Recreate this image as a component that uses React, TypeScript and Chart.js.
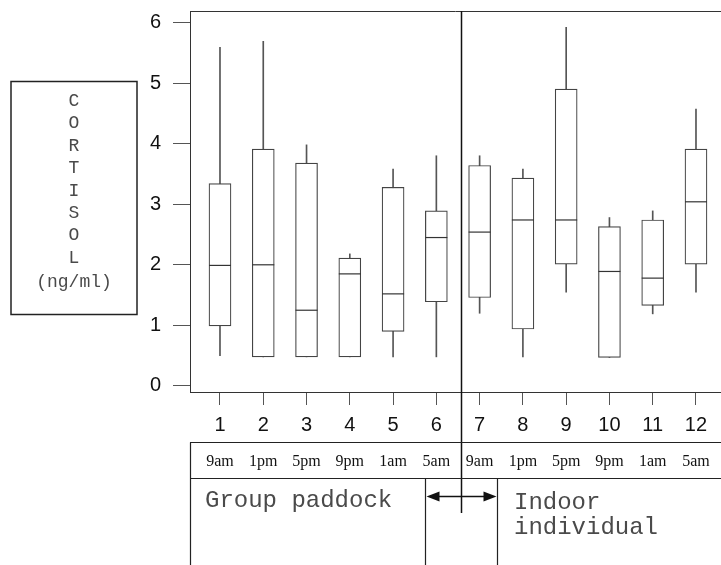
import React, { useEffect, useRef } from "react";
import { Chart, registerables } from "chart.js";

Chart.register(...registerables);

// ---- data ----
const SAMPLES = [1, 2, 3, 4, 5, 6, 7, 8, 9, 10, 11, 12];
const TIMES = ["9am", "1pm", "5pm", "9pm", "1am", "5am", "9am", "1pm", "5pm", "9pm", "1am", "5am"];
const WHISKER_LOW = [0.5, 0.48, 0.48, 0.48, 0.48, 0.48, 1.2, 0.48, 1.55, 0.47, 1.19, 1.55];
const Q1 = [0.99, 0.48, 0.48, 0.48, 0.9, 1.39, 1.46, 0.94, 2.01, 0.47, 1.33, 2.01];
const MEDIAN = [1.99, 2.0, 1.25, 1.85, 1.52, 2.45, 2.54, 2.74, 2.74, 1.89, 1.78, 3.04];
const Q3 = [3.34, 3.91, 3.68, 2.11, 3.28, 2.89, 3.64, 3.43, 4.9, 2.63, 2.74, 3.91];
const WHISKER_HIGH = [5.59, 5.69, 3.98, 2.18, 3.58, 3.8, 3.8, 3.58, 5.92, 2.78, 2.89, 4.57];
const Y_TICKS = [0, 1, 2, 3, 4, 5, 6];
const AXIS_LETTERS = ["C", "O", "R", "T", "I", "S", "O", "L"];
const AXIS_UNIT = "(ng/ml)";
const GROUP_1 = ["Group paddock"];
const GROUP_2 = ["Indoor", "individual"];

// axis ranges / divider location (in x-axis units)
const X_MIN = 0.307;
const X_MAX = 12.578;
const Y_MIN = -0.1;
const Y_MAX = 6.19;
const DIVIDER_X = 6.57;
const ARROW_FROM_X = 5.74;
const ARROW_TO_X = 7.4;

const W = 721;
const H = 565;

const annotations = {
  id: "annotations",
  afterDraw(chart: any) {
    const ctx = chart.ctx as CanvasRenderingContext2D;
    const { left, top } = chart.chartArea;
    const xs = chart.scales.x;
    ctx.save();
    ctx.strokeStyle = "#333";
    ctx.lineWidth = 1;

    // top frame line
    ctx.beginPath();
    ctx.moveTo(left, top + 0.5);
    ctx.lineTo(W, top + 0.5);
    ctx.stroke();

    // divider
    const dx = Math.round(xs.getPixelForValue(DIVIDER_X)) + 0.5;
    ctx.strokeStyle = "#111";
    ctx.lineWidth = 1.5;
    ctx.beginPath();
    ctx.moveTo(dx, top);
    ctx.lineTo(dx, 513);
    ctx.stroke();

    // table
    ctx.strokeStyle = "#222";
    ctx.lineWidth = 1.2;
    const row1 = 442.5;
    const row2 = 478.5;
    ctx.beginPath();
    ctx.moveTo(left, row1);
    ctx.lineTo(W, row1);
    ctx.moveTo(left, row2);
    ctx.lineTo(W, row2);
    ctx.moveTo(left + 0.5, row1);
    ctx.lineTo(left + 0.5, H);
    const ax1 = Math.round(xs.getPixelForValue(ARROW_FROM_X)) + 0.5;
    const ax2 = Math.round(xs.getPixelForValue(ARROW_TO_X)) + 0.5;
    ctx.moveTo(ax1, row2);
    ctx.lineTo(ax1, H);
    ctx.moveTo(ax2, row2);
    ctx.lineTo(ax2, H);
    ctx.stroke();

    // double arrow
    const ay = 496.5;
    ctx.lineWidth = 1.5;
    ctx.strokeStyle = "#111";
    ctx.beginPath();
    ctx.moveTo(ax1 + 10, ay);
    ctx.lineTo(ax2 - 10, ay);
    ctx.stroke();
    ctx.fillStyle = "#111";
    ctx.beginPath();
    ctx.moveTo(ax1 + 1, ay);
    ctx.lineTo(ax1 + 14, ay - 5);
    ctx.lineTo(ax1 + 14, ay + 5);
    ctx.closePath();
    ctx.fill();
    ctx.beginPath();
    ctx.moveTo(ax2 - 1, ay);
    ctx.lineTo(ax2 - 14, ay - 5);
    ctx.lineTo(ax2 - 14, ay + 5);
    ctx.closePath();
    ctx.fill();

    // time labels
    ctx.fillStyle = "#111";
    ctx.font = "16px 'Liberation Serif', 'DejaVu Serif', serif";
    ctx.textAlign = "center";
    ctx.textBaseline = "alphabetic";
    TIMES.forEach((t, i) => {
      ctx.fillText(t, xs.getPixelForValue(SAMPLES[i]), 466);
    });

    // group labels
    ctx.fillStyle = "#4a4a4a";
    ctx.font = "24px 'Liberation Mono', 'DejaVu Sans Mono', monospace";
    ctx.textAlign = "left";
    GROUP_1.forEach((t, i) => ctx.fillText(t, 205, 507 + i * 25));
    GROUP_2.forEach((t, i) => ctx.fillText(t, 514, 509 + i * 25));

    // y-axis title box
    ctx.strokeStyle = "#222";
    ctx.lineWidth = 1.5;
    ctx.strokeRect(11, 81.5, 126, 233);
    ctx.fillStyle = "#4a4a4a";
    ctx.font = "18px 'Liberation Mono', 'DejaVu Sans Mono', monospace";
    ctx.textAlign = "center";
    AXIS_LETTERS.forEach((c, i) => ctx.fillText(c, 74, 106 + i * 22.4));
    ctx.fillText(AXIS_UNIT, 74, 287);

    ctx.restore();
  },
};

export default function App() {
  const ref = useRef<HTMLCanvasElement | null>(null);

  useEffect(() => {
    if (!ref.current) return;
    const chart = new Chart(ref.current, {
      type: "bar",
      data: {
        datasets: [
          {
            type: "line",
            label: "median",
            data: SAMPLES.map((s, i) => ({ x: s, y: MEDIAN[i] })),
            showLine: false,
            pointStyle: "line",
            pointRadius: 11,
            pointHoverRadius: 11,
            pointBorderWidth: 1.2,
            borderColor: "#333",
            backgroundColor: "#333",
            order: 1,
          } as any,
          {
            type: "bar",
            label: "box",
            data: SAMPLES.map((s, i) => ({ x: s, y: [Q1[i], Q3[i]] })),
            backgroundColor: "#ffffff",
            borderColor: "#444",
            borderWidth: 1.2,
            borderSkipped: false,
            barThickness: 22,
            grouped: false,
            order: 2,
          } as any,
          {
            type: "bar",
            label: "whisker",
            data: SAMPLES.map((s, i) => ({ x: s, y: [WHISKER_LOW[i], WHISKER_HIGH[i]] })),
            backgroundColor: "#555",
            borderWidth: 0,
            barThickness: 1,
            grouped: false,
            order: 3,
          } as any,
        ],
      },
      options: {
        responsive: false,
        animation: false,
        layout: { autoPadding: false, padding: { top: 11, left: 0, right: 0, bottom: 0 } },
        plugins: {
          legend: { display: false },
          tooltip: { enabled: false },
        },
        scales: {
          x: {
            type: "linear",
            min: X_MIN,
            max: X_MAX,
            offset: false,
            afterBuildTicks: (s: any) => {
              s.ticks = SAMPLES.map((v) => ({ value: v }));
            },
            afterFit: (s: any) => {
              s.height = 173;
              s.paddingLeft = 0;
              s.paddingRight = 0;
              s.paddingTop = 0;
              s.paddingBottom = 0;
            },
            ticks: {
              color: "#111",
              font: { family: "'Liberation Sans', Arial, sans-serif", size: 20 },
              padding: 8,
              maxRotation: 0,
              autoSkip: false,
              callback: (v: any) => String(v),
            },
            grid: {
              offset: false,
              drawOnChartArea: false,
              drawTicks: true,
              tickLength: 13,
              color: "#555",
            },
            border: { display: true, color: "#333", width: 1 },
          },
          y: {
            type: "linear",
            min: Y_MIN,
            max: Y_MAX,
            afterBuildTicks: (s: any) => {
              s.ticks = Y_TICKS.map((v) => ({ value: v }));
            },
            afterFit: (s: any) => {
              s.width = 190;
              s.paddingLeft = 0;
              s.paddingRight = 0;
              s.paddingTop = 0;
              s.paddingBottom = 0;
            },
            ticks: {
              color: "#111",
              font: { family: "'Liberation Sans', Arial, sans-serif", size: 20 },
              padding: 12,
              callback: (v: any) => String(v),
            },
            grid: {
              drawOnChartArea: false,
              drawTicks: true,
              tickLength: 17,
              color: "#555",
            },
            border: { display: true, color: "#333", width: 1 },
          },
        },
      },
      plugins: [annotations],
    });
    return () => chart.destroy();
  }, []);

  return (
    <div style={{ position: "fixed", left: 0, top: 0, width: W, height: H, background: "#fff" }}>
      <canvas ref={ref} width={W} height={H} style={{ display: "block", width: W, height: H }} />
    </div>
  );
}
